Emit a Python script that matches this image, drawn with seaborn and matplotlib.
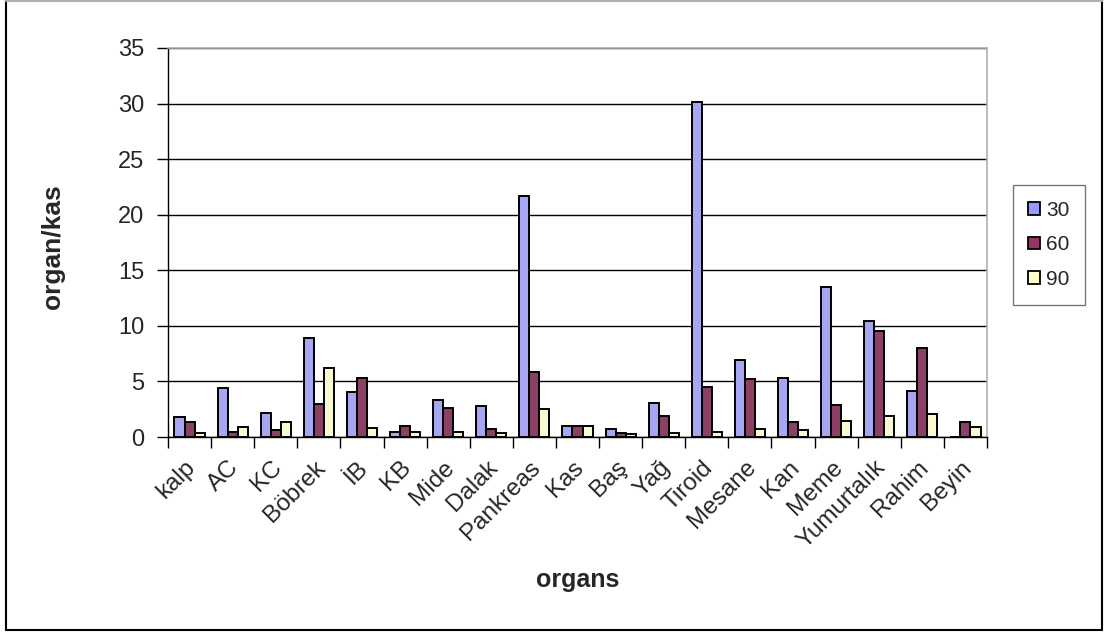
import numpy as np
import pandas as pd
import matplotlib
matplotlib.use("Agg")
import matplotlib.pyplot as plt
import matplotlib.transforms as mtransforms
from matplotlib.lines import Line2D
from matplotlib.ticker import MultipleLocator, FixedLocator
import seaborn as sns

# Organ/muscle uptake ratios at 30, 60 and 90 minutes
organs = ["kalp", "AC", "KC", "Böbrek", "İB", "KB", "Mide", "Dalak", "Pankreas",
          "Kas", "Baş", "Yağ", "Tiroid", "Mesane", "Kan", "Meme", "Yumurtalık",
          "Rahim", "Beyin"]
times = ["30", "60", "90"]
ratio_30 = [1.77, 4.40, 2.19, 8.95, 4.07, 0.48, 3.32, 2.75, 21.7, 1.02, 0.69, 3.05,
            30.1, 6.97, 5.35, 13.54, 10.48, 4.17, 0.0]
ratio_60 = [1.32, 0.45, 0.60, 3.00, 5.30, 1.02, 2.57, 0.69, 5.84, 1.02, 0.36, 1.89,
            4.49, 5.22, 1.32, 2.85, 9.52, 7.99, 1.32]
ratio_90 = [0.33, 0.93, 1.35, 6.23, 0.84, 0.48, 0.45, 0.36, 2.54, 1.02, 0.24, 0.36,
            0.45, 0.75, 0.63, 1.41, 1.86, 2.10, 0.90]
colors = ["#9999FF", "#993366", "#FFFFCC"]

df = pd.DataFrame({
    "organ": organs * 3,
    "time": [t for t in times for _ in organs],
    "value": ratio_30 + ratio_60 + ratio_90,
})

sns.set_style("white")
plt.rcParams["font.family"] = ["Liberation Sans", "DejaVu Sans"]

W, H = 1115, 635
fig = plt.figure(figsize=(W / 100, H / 100), dpi=100)
ax = fig.add_axes([168 / W, 1 - 437 / H, (987 - 168) / W, (437 - 48) / H])

sns.barplot(data=df, x="organ", y="value", hue="time", order=organs,
            hue_order=times, palette=colors, edgecolor="black", linewidth=1.4,
            width=0.7, errorbar=None, ax=ax, legend=False, zorder=3)

ax.set_xlim(-0.5, len(organs) - 0.5)
ax.set_ylim(0, 35)
ax.yaxis.set_major_locator(MultipleLocator(5))
ax.grid(axis="y", color="black", linewidth=1.0, zorder=0)
ax.set_axisbelow(True)

for side in ["top", "right"]:
    ax.spines[side].set_color("#B0B0B0")
    ax.spines[side].set_linewidth(1.2)
for side in ["left", "bottom"]:
    ax.spines[side].set_color("black")
    ax.spines[side].set_linewidth(1.0)

ax.tick_params(axis="y", which="major", direction="out", length=8, width=1,
               color="black", pad=9, labelsize=17, left=True)
ax.xaxis.set_minor_locator(FixedLocator(np.arange(-0.5, len(organs), 1.0)))
ax.tick_params(axis="x", which="minor", direction="out", length=8, width=1,
               color="black", bottom=True)
ax.tick_params(axis="x", which="major", length=0, pad=14, labelsize=17.5)
shift = mtransforms.ScaledTranslation(-5 / 100, 0, fig.dpi_scale_trans)
for lab in ax.get_xticklabels():
    lab.set_rotation(45)
    lab.set_ha("right")
    lab.set_rotation_mode("anchor")
    lab.set_transform(lab.get_transform() + shift)

ax.set_xlabel("organs", fontsize=18, fontweight="bold", va="center")
ax.xaxis.set_label_coords(0.5, (437 - 580) / 389)
ax.set_ylabel("organ/kas", fontsize=19, fontweight="bold", va="center")
ax.yaxis.set_label_coords((53 - 168) / 819, (437 - 247) / 389)

handles = [plt.Rectangle((0, 0), 1, 1, facecolor=c, edgecolor="black", linewidth=1.3)
           for c in colors]
leg = fig.legend(handles, times, loc="center", bbox_to_anchor=(1049 / W, 1 - 245 / H),
                 frameon=True, fancybox=False, shadow=False, fontsize=15,
                 handlelength=0.55, handleheight=0.55, handletextpad=0.3,
                 labelspacing=0.75, borderpad=0.75, borderaxespad=0)
leg.get_frame().set_edgecolor("#555555")
leg.get_frame().set_linewidth(1.0)

# chart area border
x0, x1, yb = 6 / W, 1102 / W, 1 - 630 / H
fig.add_artist(Line2D([x0, x0], [1, yb], transform=fig.transFigure, color="black", linewidth=1.5))
fig.add_artist(Line2D([x1, x1], [1, yb], transform=fig.transFigure, color="black", linewidth=1.5))
fig.add_artist(Line2D([x0, x1], [yb, yb], transform=fig.transFigure, color="black", linewidth=1.5))
fig.add_artist(Line2D([x0, x1], [0.999, 0.999], transform=fig.transFigure, color="#B0B0B0",
                      linewidth=1.5))

fig.savefig("out.png", dpi=100, facecolor="white")
